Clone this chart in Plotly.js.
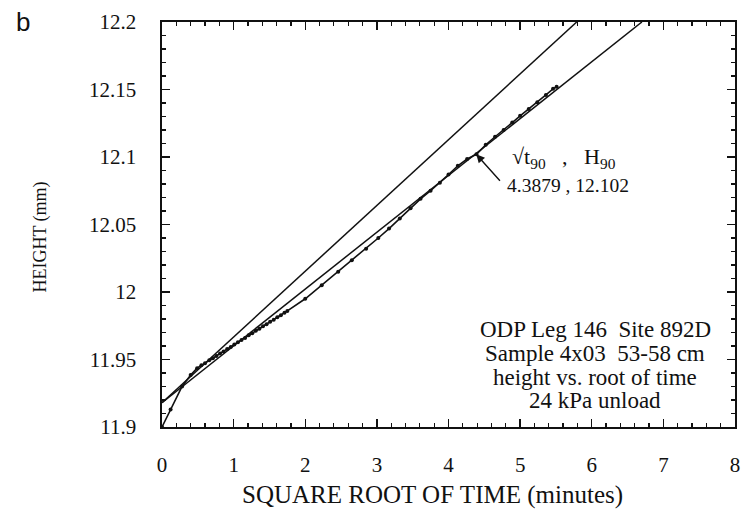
<!DOCTYPE html>
<html>
<head>
<meta charset="utf-8">
<script src="https://cdn.plot.ly/plotly-3.0.1.min.js"></script>
<style>
html,body{margin:0;padding:0;background:#fff;}
#chart{width:746px;height:510px;}
</style>
</head>
<body>
<div id="chart"></div>
<script>
// ---- data ----
var sqrtTime = [0, 0.12, 0.28, 0.40, 0.49, 0.55, 0.60, 0.66, 0.71, 0.76, 0.81, 0.86, 0.91, 0.96, 1.01,
  1.06, 1.11, 1.16, 1.21, 1.26, 1.31, 1.36, 1.41, 1.46, 1.51, 1.56, 1.61, 1.66, 1.71, 1.75,
  2.00, 2.23, 2.46, 2.65, 2.85, 3.02, 3.17, 3.32, 3.47, 3.61, 3.75, 3.88, 4.00, 4.13, 4.26,
  4.39, 4.52, 4.65, 4.77, 4.89, 5.00, 5.12, 5.24, 5.36, 5.46, 5.51];
var heightMm = [11.900, 11.913, 11.930, 11.9385, 11.9436, 11.9457, 11.9472, 11.9494, 11.951, 11.9526,
  11.9545, 11.956, 11.9578, 11.9593, 11.9612, 11.9627, 11.9645, 11.966, 11.9679, 11.9694, 11.9713,
  11.9728, 11.9746, 11.9761, 11.978, 11.9795, 11.9813, 11.9828, 11.9847, 11.986,
  11.995, 12.005, 12.015, 12.0235, 12.032, 12.040, 12.047, 12.0545, 12.062, 12.069, 12.075,
  12.081, 12.087, 12.0935, 12.0985, 12.102, 12.109, 12.115, 12.120, 12.1255, 12.1305,
  12.1355, 12.1405, 12.146, 12.1505, 12.152];

// initial linear fit line and the 1.15x abscissa line
var fitLineX = [0, 5.79];
var fitLineY = [11.918, 12.2];
var slowLineX = [0, 6.70];
var slowLineY = [11.918, 12.2];

// t90 point
var t90X = 4.3879;
var t90Y = 12.102;

var xTickVals = [0, 1, 2, 3, 4, 5, 6, 7, 8];
var xTickText = ['0', '1', '2', '3', '4', '5', '6', '7', '8'];
var yTickVals = [11.9, 11.95, 12.0, 12.05, 12.1, 12.15, 12.2];
var yTickText = ['11.9', '11.95', '12', '12.05', '12.1', '12.15', '12.2'];

var infoLines = ['ODP Leg 146  Site 892D', 'Sample 4x03  53-58 cm', 'height vs. root of time', '24 kPa unload'];

// ---- chart ----
var serif = 'Liberation Serif, Times New Roman, serif';
var traces = [
  {x: fitLineX, y: fitLineY, mode: 'lines', line: {color: '#111', width: 1.5}, hoverinfo: 'skip'},
  {x: slowLineX, y: slowLineY, mode: 'lines', line: {color: '#111', width: 1.5}, hoverinfo: 'skip'},
  {x: sqrtTime, y: heightMm, mode: 'lines+markers', line: {color: '#111', width: 1.6},
   marker: {color: '#111', size: 4}}
];

var infoY = [11.972, 11.9545, 11.937, 11.920];
var annotations = [
  {xref: 'paper', yref: 'paper', x: -0.243, y: 1.0, xanchor: 'center', yanchor: 'middle',
   text: 'b', showarrow: false, font: {family: 'Liberation Sans, Arial, sans-serif', size: 26, color: '#111'}},
  {xref: 'paper', yref: 'paper', x: 0.4717, y: -0.168, xanchor: 'center', yanchor: 'middle',
   text: 'SQUARE ROOT OF TIME (minutes)', showarrow: false, font: {family: serif, size: 25, color: '#111'}},
  {xref: 'paper', yref: 'paper', x: -0.212, y: 0.469, xanchor: 'center', yanchor: 'middle', textangle: -90,
   text: 'HEIGHT (mm)', showarrow: false, font: {family: serif, size: 18, color: '#111'}},
  {x: 4.86, y: 12.099, xanchor: 'left', yanchor: 'middle',
   text: '√t<sub>90</sub>   ,   H<sub>90</sub>', showarrow: false, font: {family: serif, size: 22, color: '#111'}},
  {x: 4.79, y: 12.079, xanchor: 'left', yanchor: 'middle',
   text: t90X.toFixed(4) + ' , ' + t90Y.toFixed(3), showarrow: false, font: {family: serif, size: 19.5, color: '#111'}},
  {x: t90X, y: t90Y, text: '', showarrow: true, ax: 25, ay: 28, arrowhead: 2, arrowsize: 1.2,
   arrowwidth: 1.4, arrowcolor: '#111'}
];
for (var i = 0; i < infoLines.length; i++) {
  annotations.push({x: 6.05, y: infoY[i], xanchor: 'center', yanchor: 'middle', text: infoLines[i],
    showarrow: false, font: {family: serif, size: 23, color: '#111'}});
}

var layout = {
  width: 746, height: 510,
  margin: {l: 161.5, r: 11, t: 22, b: 83},
  paper_bgcolor: '#fff', plot_bgcolor: '#fff',
  showlegend: false,
  font: {family: serif, size: 20, color: '#111'},
  xaxis: {
    range: [0, 8], tickmode: 'array', tickvals: xTickVals, ticktext: xTickText,
    ticks: 'inside', ticklen: 8, tickwidth: 1.4, tickcolor: '#111',
    showline: true, linecolor: '#111', linewidth: 1.6, mirror: 'ticks',
    showgrid: false, zeroline: false, ticklabelstandoff: 18,
    tickfont: {family: serif, size: 21, color: '#111'},
    minor: {tick0: 0, dtick: 0.2, ticks: 'inside', ticklen: 4, tickwidth: 1.2, tickcolor: '#111', showgrid: false}
  },
  yaxis: {
    range: [11.9, 12.2], tickmode: 'array', tickvals: yTickVals, ticktext: yTickText,
    ticks: 'inside', ticklen: 8, tickwidth: 1.4, tickcolor: '#111',
    showline: true, linecolor: '#111', linewidth: 1.6, mirror: 'ticks',
    showgrid: false, zeroline: false, ticklabelstandoff: 20,
    tickfont: {family: serif, size: 21, color: '#111'},
    minor: {tick0: 11.9, dtick: 0.01, ticks: 'inside', ticklen: 4, tickwidth: 1.2, tickcolor: '#111', showgrid: false}
  },
  annotations: annotations
};

Plotly.newPlot('chart', traces, layout, {staticPlot: true, displayModeBar: false});
</script>
</body>
</html>
